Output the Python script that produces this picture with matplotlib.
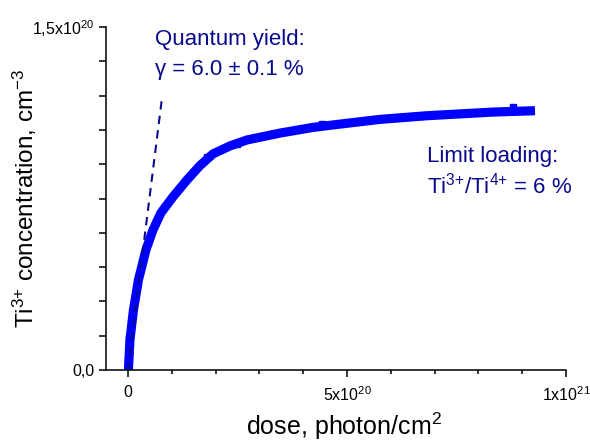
import numpy as np
import matplotlib.pyplot as plt
from matplotlib.ticker import FixedLocator, MultipleLocator

plt.rcParams['font.family'] = ['Liberation Sans', 'DejaVu Sans']
plt.rcParams['mathtext.fontset'] = 'custom'
plt.rcParams['mathtext.rm'] = 'Liberation Sans'
plt.rcParams['mathtext.it'] = 'Liberation Sans:italic'

# dose in 1e20 photon/cm2, concentration in 1e20 cm-3
dose = np.array([0.011, 0.046, 0.126, 0.240, 0.411, 0.571, 0.753, 1.027, 1.347,
                 1.64, 1.941, 2.33, 2.717, 3.470, 4.224, 5.0, 5.753, 6.826,
                 8.333, 9.292]) * 1e20
conc = np.array([0.0, 0.131, 0.262, 0.394, 0.525, 0.612, 0.687, 0.757, 0.831,
                 0.893, 0.945, 0.980, 1.006, 1.036, 1.061, 1.079, 1.096, 1.112,
                 1.128, 1.134]) * 1e20

# a few points that stick out of the thick curve
pts_dose = np.array([0.02, 1.81, 2.50, 4.43, 8.79]) * 1e20
pts_conc = np.array([0.14, 0.93, 0.99, 1.077, 1.15]) * 1e20

# initial slope (quantum yield fit)
fit_dose = np.array([0.0, 0.77]) * 1e20
fit_conc = np.array([0.0, 1.178]) * 1e20

navy = '#0a0a8c'

fig = plt.figure(figsize=(5.9, 4.42), dpi=100)
ax = fig.add_axes([0.1797, 0.1629, 0.9593 - 0.1797, 0.9389 - 0.1629])

ax.plot(dose, conc, color='#0000ff', lw=6.6, solid_capstyle='butt',
        solid_joinstyle='round', zorder=2)
ax.plot(pts_dose, pts_conc, 's', color='#0000ff', ms=4, zorder=2)
ax.plot(fit_dose, fit_conc, '--', color=navy, lw=1.5, dashes=(4, 3), zorder=3)

ax.set_xlim(-0.5e20, 1e21)
ax.set_ylim(0, 1.5e20)

for s in ['top', 'right']:
    ax.spines[s].set_visible(False)
for s in ['left', 'bottom']:
    ax.spines[s].set_linewidth(1.1)

ax.xaxis.set_major_locator(FixedLocator([0, 5e20, 1e21]))
ax.xaxis.set_minor_locator(MultipleLocator(1e20))
ax.set_xticklabels(['0', '5x10$^{20}$', '1x10$^{21}$'])
ax.yaxis.set_major_locator(FixedLocator([0, 1.5e20]))
ax.yaxis.set_minor_locator(MultipleLocator(1.5e19))
ax.set_yticklabels(['0,0', '1,5x10$^{20}$'])

ax.tick_params(axis='both', which='major', direction='out', length=5, width=1.1,
               labelsize=11.5)
ax.tick_params(axis='x', which='minor', direction='out', length=3, width=1.1)
ax.tick_params(axis='y', which='minor', direction='out', length=5, width=1.1)
ax.tick_params(axis='x', which='major', pad=6)

ax.set_xlabel('dose, photon/cm$^2$', fontsize=18)
ax.xaxis.set_label_coords(0.518, -0.118)
ax.set_ylabel('Ti$^{3{+}}$ concentration, cm$^{-3}$', fontsize=17.5)
ax.yaxis.set_label_coords(-0.145, 0.5)

txt = dict(color=navy, fontsize=16, va='baseline')
ax.text(0.62e20, 1.421e20, 'Quantum yield:', **txt)
ax.text(0.62e20, 1.290e20, 'γ = 6.0 ± 0.1 %', **txt)
ax.text(6.83e20, 0.910e20, 'Limit loading:', **txt)
ax.text(6.83e20, 0.774e20, 'Ti$^{3{+}}$/Ti$^{4{+}}$ = 6 %', **txt)

fig.savefig('out.png', dpi=100)
